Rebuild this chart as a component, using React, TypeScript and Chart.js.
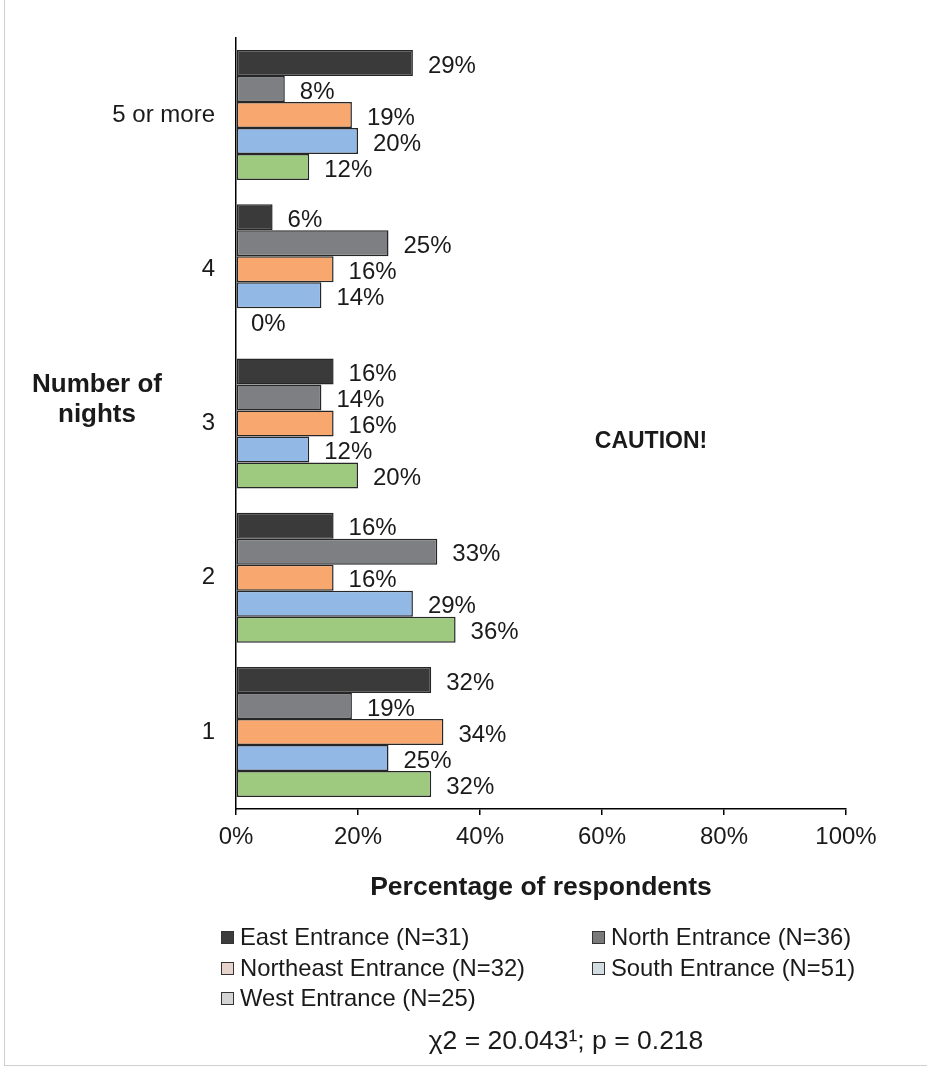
import React, { useEffect, useRef } from "react";
import { Chart, registerables } from "chart.js";

Chart.register(...registerables);

const categories = ["5 or more", "4", "3", "2", "1"];
const seriesNames = [
  "East Entrance (N=31)",
  "North Entrance (N=36)",
  "Northeast Entrance (N=32)",
  "South Entrance (N=51)",
  "West Entrance (N=25)",
];
const eastValues = [29, 6, 16, 16, 32];
const northValues = [8, 25, 14, 33, 19];
const northeastValues = [19, 16, 16, 16, 34];
const southValues = [20, 14, 12, 29, 25];
const westValues = [12, 0, 20, 36, 32];
const xTickValues = [0, 20, 40, 60, 80, 100];

const barColors = ["#3a3a3a", "#7d7f82", "#f8a86e", "#92b8e6", "#9dca7f"];
const legendSwatches = ["#3c3c3c", "#7a7a7a", "#e6d4cc", "#d2dde2", "#d4d4d4"];

const FONT = "'Liberation Sans', Arial, sans-serif";

export default function App() {
  const ref = useRef<HTMLCanvasElement | null>(null);

  useEffect(() => {
    if (!ref.current) return;
    const seriesValues = [eastValues, northValues, northeastValues, southValues, westValues];
    const labelPlugin = {
      id: "barValueLabels",
      afterDatasetsDraw(chart: any) {
        const ctx = chart.ctx;
        ctx.save();
        ctx.font = `24px ${FONT}`;
        ctx.fillStyle = "#1a1a1a";
        ctx.textAlign = "left";
        ctx.textBaseline = "middle";
        chart.data.datasets.forEach((ds: any, di: number) => {
          const meta = chart.getDatasetMeta(di);
          meta.data.forEach((el: any, i: number) => {
            ctx.fillText(`${ds.data[i]}%`, el.x + 15, el.y + 3);
          });
        });
        ctx.restore();
      },
    };
    const chart = new Chart(ref.current, {
      type: "bar",
      data: {
        labels: categories,
        datasets: seriesNames.map((name, i) => ({
          label: name,
          data: seriesValues[i],
          backgroundColor: barColors[i],
          borderColor: "#262626",
          borderWidth: 1.5,
          borderSkipped: false,
          categoryPercentage: 0.843,
          barPercentage: 1,
        })),
      },
      options: {
        indexAxis: "y",
        responsive: false,
        maintainAspectRatio: false,
        animation: false,
        layout: { padding: { left: 0, right: 81, top: 38, bottom: 0 } },
        plugins: {
          legend: { display: false },
          tooltip: { enabled: false },
        },
        scales: {
          x: {
            type: "linear",
            min: 0,
            max: 100,
            afterFit(scale: any) {
              scale.height = 260;
            },
            afterBuildTicks(scale: any) {
              scale.ticks = xTickValues.map((v) => ({ value: v }));
            },
            ticks: {
              callback: (v: any) => `${v}%`,
              font: { family: FONT, size: 24 },
              color: "#1a1a1a",
              padding: 8,
              maxRotation: 0,
            },
            grid: {
              display: true,
              drawOnChartArea: false,
              drawTicks: true,
              tickLength: 6,
              color: "#000",
              lineWidth: 1.5,
            },
            border: { display: true, color: "#000", width: 1.5 },
          },
          y: {
            type: "category",
            afterFit(scale: any) {
              scale.width = 236;
            },
            ticks: {
              font: { family: FONT, size: 24 },
              color: "#1a1a1a",
              padding: 21,
            },
            grid: { display: false, drawTicks: false },
            border: { display: true, color: "#000", width: 1.5 },
          },
        },
      },
      plugins: [labelPlugin],
    });
    return () => chart.destroy();
  }, []);

  const legendItems = [
    { i: 0, x: 221, y: 937 },
    { i: 1, x: 592, y: 937 },
    { i: 2, x: 221, y: 968 },
    { i: 3, x: 592, y: 968 },
    { i: 4, x: 221, y: 998 },
  ];

  return (
    <div
      style={{
        position: "absolute",
        left: 0,
        top: 0,
        width: 927,
        height: 1069,
        background: "#fff",
        fontFamily: FONT,
        color: "#1a1a1a",
        overflow: "hidden",
      }}
    >
      <canvas ref={ref} width={927} height={1069} style={{ position: "absolute", left: 0, top: 0, width: 927, height: 1069 }} />
      <div style={{ position: "absolute", left: 4, top: 0, width: 1, height: 1066, background: "#cfcfcf" }} />
      <div style={{ position: "absolute", left: 4, top: 1065, width: 923, height: 1, background: "#cfcfcf" }} />
      <div
        style={{
          position: "absolute",
          left: 17,
          top: 368,
          width: 160,
          textAlign: "center",
          fontWeight: "bold",
          fontSize: 26,
          lineHeight: "30px",
        }}
      >
        Number of
        <br />
        nights
      </div>
      <div
        style={{
          position: "absolute",
          left: 551,
          top: 425,
          width: 200,
          textAlign: "center",
          fontWeight: "bold",
          fontSize: 23,
          lineHeight: "30px",
        }}
      >
        CAUTION!
      </div>
      <div
        style={{
          position: "absolute",
          left: 341,
          top: 870,
          width: 400,
          textAlign: "center",
          fontWeight: "bold",
          fontSize: 26.5,
          lineHeight: "32px",
        }}
      >
        Percentage of respondents
      </div>
      {legendItems.map((it) => (
        <div
          key={it.i}
          style={{
            position: "absolute",
            left: it.x,
            top: it.y - 15,
            height: 30,
            display: "flex",
            alignItems: "center",
            fontSize: 23.8,
            whiteSpace: "nowrap",
          }}
        >
          <span
            style={{
              display: "inline-block",
              width: 11,
              height: 11,
              background: legendSwatches[it.i],
              border: "1.5px solid #333",
              marginRight: 6,
            }}
          />
          {seriesNames[it.i]}
        </div>
      ))}
      <div
        style={{
          position: "absolute",
          left: 366,
          top: 1024,
          width: 400,
          textAlign: "center",
          fontSize: 26.5,
          lineHeight: "32px",
        }}
      >
        χ2 = 20.043¹; p = 0.218
      </div>
    </div>
  );
}
